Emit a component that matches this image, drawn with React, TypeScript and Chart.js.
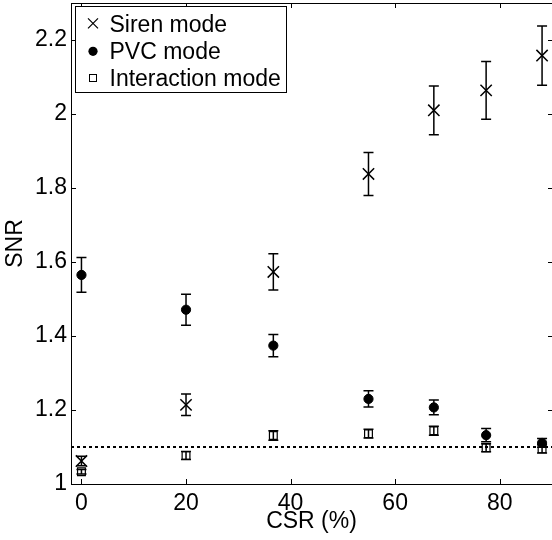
import React, { useEffect, useRef } from 'react';
import { Chart, registerables } from 'chart.js';

Chart.register(...registerables);

// ---- Data ----
const csr = [0, 20, 36.7, 54.9, 67.4, 77.4, 88.1];
const sirenSNR = [1.062, 1.214, 1.573, 1.838, 2.010, 2.064, 2.158];
const sirenErr = [0.013, 0.029, 0.049, 0.058, 0.066, 0.078, 0.080];
const pvcSNR = [1.565, 1.471, 1.374, 1.230, 1.207, 1.132, 1.111];
const pvcErr = [0.047, 0.042, 0.030, 0.022, 0.020, 0.018, 0.012];
const interSNR = [1.033, 1.077, 1.131, 1.136, 1.144, 1.098, 1.095];
const interErr = [0.006, 0.011, 0.013, 0.012, 0.012, 0.011, 0.011];
const thresholdX = [-2, 90];
const thresholdY = [1.1, 1.1];
const xTicks = [0, 20, 40, 60, 80];
const xTickLabels = ['0', '20', '40', '60', '80'];
const yTicks = [1, 1.2, 1.4, 1.6, 1.8, 2, 2.2];
const yTickLabels = ['1', '1.2', '1.4', '1.6', '1.8', '2', '2.2'];
const seriesNames = ['Siren mode', 'PVC mode', 'Interaction mode'];
const xTitle = 'CSR (%)';
const yTitle = 'SNR';

const FONT = "'Liberation Sans', Arial, Helvetica, sans-serif";

const pts = (xs: number[], ys: number[]) => xs.map((x, i) => ({ x, y: ys[i] }));

const zeroPad = (s: any) => {
  s.paddingTop = 0;
  s.paddingBottom = 0;
  s.paddingLeft = 0;
  s.paddingRight = 0;
};

const axesBoxPlugin = {
  id: 'axesBox',
  beforeDatasetsDraw(chart: any) {
    const { ctx, chartArea } = chart;
    const { left, right, top, bottom } = chartArea;
    const xs = chart.scales.x;
    const ys = chart.scales.y;
    ctx.save();
    ctx.strokeStyle = '#000';
    ctx.lineWidth = 1;
    ctx.beginPath();
    ctx.moveTo(left + 0.5, top + 0.5);
    ctx.lineTo(right + 2, top + 0.5);
    ctx.moveTo(left + 0.5, top);
    ctx.lineTo(left + 0.5, bottom + 0.5);
    ctx.lineTo(right + 2, bottom + 0.5);
    const tl = 5;
    xTicks.forEach((v) => {
      const px = Math.round(xs.getPixelForValue(v)) + 0.5;
      ctx.moveTo(px, bottom);
      ctx.lineTo(px, bottom - tl);
      ctx.moveTo(px, top);
      ctx.lineTo(px, top + tl);
    });
    yTicks.forEach((v) => {
      const py = Math.round(ys.getPixelForValue(v)) + 0.5;
      ctx.moveTo(left, py);
      ctx.lineTo(left + tl, py);
      ctx.moveTo(right + 1, py);
      ctx.lineTo(right + 1 - tl, py);
    });
    ctx.stroke();
    ctx.restore();
  },
};

const errorBarPlugin = {
  id: 'errorBars',
  afterDatasetsDraw(chart: any) {
    const ctx = chart.ctx;
    const xs = chart.scales.x;
    const ys = chart.scales.y;
    chart.data.datasets.forEach((ds: any) => {
      if (!ds.errors) return;
      ctx.save();
      ctx.strokeStyle = '#000';
      ctx.lineWidth = 1.5;
      ds.data.forEach((p: any, i: number) => {
        const e = ds.errors[i];
        const px = xs.getPixelForValue(p.x);
        const top = ys.getPixelForValue(p.y + e);
        const bot = ys.getPixelForValue(p.y - e);
        ctx.beginPath();
        ctx.moveTo(px, top);
        ctx.lineTo(px, bot);
        ctx.moveTo(px - 5, top);
        ctx.lineTo(px + 5, top);
        ctx.moveTo(px - 5, bot);
        ctx.lineTo(px + 5, bot);
        ctx.stroke();
      });
      ctx.restore();
    });
  },
};

const legendPlugin = {
  id: 'boxLegend',
  afterDraw(chart: any) {
    const ctx = chart.ctx;
    ctx.save();
    const bx = 75.5, by = 6.5, bw = 211, bh = 86;
    ctx.fillStyle = '#fff';
    ctx.fillRect(bx, by, bw, bh);
    ctx.strokeStyle = '#000';
    ctx.lineWidth = 1;
    ctx.strokeRect(bx, by, bw, bh);
    const mx = 93;
    const baselines = [31.5, 59, 86.3];
    const centers = [23.3, 51.3, 78];
    ctx.fillStyle = '#000';
    ctx.font = `23px ${FONT}`;
    ctx.textBaseline = 'alphabetic';
    ctx.textAlign = 'left';
    seriesNames.forEach((name, i) => {
      ctx.fillText(name, 109.5, baselines[i]);
      const cy = centers[i];
      ctx.beginPath();
      if (i === 0) {
        ctx.lineWidth = 1.2;
        ctx.moveTo(mx - 5, cy - 5);
        ctx.lineTo(mx + 5, cy + 5);
        ctx.moveTo(mx + 5, cy - 5);
        ctx.lineTo(mx - 5, cy + 5);
        ctx.stroke();
      } else if (i === 1) {
        ctx.arc(mx, cy, 4.6, 0, Math.PI * 2);
        ctx.fill();
      } else {
        ctx.lineWidth = 1;
        ctx.strokeRect(mx - 3.5, cy - 3.5, 7, 7);
      }
    });
    ctx.restore();
  },
};

export default function App() {
  const ref = useRef<HTMLCanvasElement | null>(null);

  useEffect(() => {
    document.body.style.margin = '0';
    if (!ref.current) return;
    Chart.defaults.font.family = FONT;
    const chart = new Chart(ref.current, {
      type: 'scatter',
      data: {
        datasets: [
          {
            label: seriesNames[0],
            data: pts(csr, sirenSNR),
            errors: sirenErr,
            pointStyle: 'crossRot',
            pointRadius: 8,
            borderColor: '#000',
            backgroundColor: '#000',
            borderWidth: 1.5,
          } as any,
          {
            label: seriesNames[1],
            data: pts(csr, pvcSNR),
            errors: pvcErr,
            pointStyle: 'circle',
            pointRadius: 4.6,
            borderColor: '#000',
            backgroundColor: '#000',
            borderWidth: 1,
          } as any,
          {
            label: seriesNames[2],
            data: pts(csr, interSNR),
            errors: interErr,
            pointStyle: 'rect',
            pointRadius: 5.5,
            borderColor: '#000',
            backgroundColor: 'rgba(255,255,255,0)',
            borderWidth: 1.2,
          } as any,
          {
            label: 'threshold',
            data: pts(thresholdX, thresholdY),
            showLine: true,
            borderColor: '#000',
            borderWidth: 2,
            borderDash: [3, 3],
            pointRadius: 0,
            fill: false,
          } as any,
        ],
      },
      options: {
        animation: false,
        responsive: false,
        devicePixelRatio: 1,
        layout: { autoPadding: false, padding: { top: 3, right: -1, left: 0, bottom: 0 } },
        plugins: {
          legend: { display: false },
          tooltip: { enabled: false },
        },
        scales: {
          x: {
            type: 'linear',
            min: thresholdX[0],
            max: thresholdX[1],
            grid: { display: false, drawTicks: false },
            border: { display: false },
            afterBuildTicks: (s: any) => {
              s.ticks = xTicks.map((v) => ({ value: v }));
            },
            afterFit: (s: any) => {
              s.height = 56;
              zeroPad(s);
            },
            ticks: {
              padding: 6,
              color: '#000',
              font: { size: 23, family: FONT },
              maxRotation: 0,
              autoSkip: false,
              callback: (v: any) => xTickLabels[xTicks.indexOf(Number(v))] ?? '',
            },
            title: {
              display: true,
              text: xTitle,
              color: '#000',
              font: { size: 23, family: FONT },
              padding: { top: 0, bottom: 5 },
            },
          },
          y: {
            type: 'linear',
            min: 1,
            max: 2.3,
            grid: { display: false, drawTicks: false },
            border: { display: false },
            afterBuildTicks: (s: any) => {
              s.ticks = yTicks.map((v) => ({ value: v }));
            },
            afterFit: (s: any) => {
              s.width = 71;
              zeroPad(s);
            },
            ticks: {
              padding: 4,
              color: '#000',
              font: { size: 23, family: FONT },
              autoSkip: false,
              callback: (v: any) => {
                const idx = yTicks.findIndex((t) => Math.abs(t - Number(v)) < 1e-9);
                return idx >= 0 ? yTickLabels[idx] : '';
              },
            },
            title: {
              display: true,
              text: yTitle,
              color: '#000',
              font: { size: 23, family: FONT },
              padding: { top: 2, bottom: 0 },
            },
          },
        },
      },
      plugins: [axesBoxPlugin, errorBarPlugin, legendPlugin],
    } as any);
    return () => chart.destroy();
  }, []);

  return (
    <div style={{ width: 552, height: 540, background: '#fff' }}>
      <canvas ref={ref} width={552} height={540} style={{ display: 'block' }} />
    </div>
  );
}
